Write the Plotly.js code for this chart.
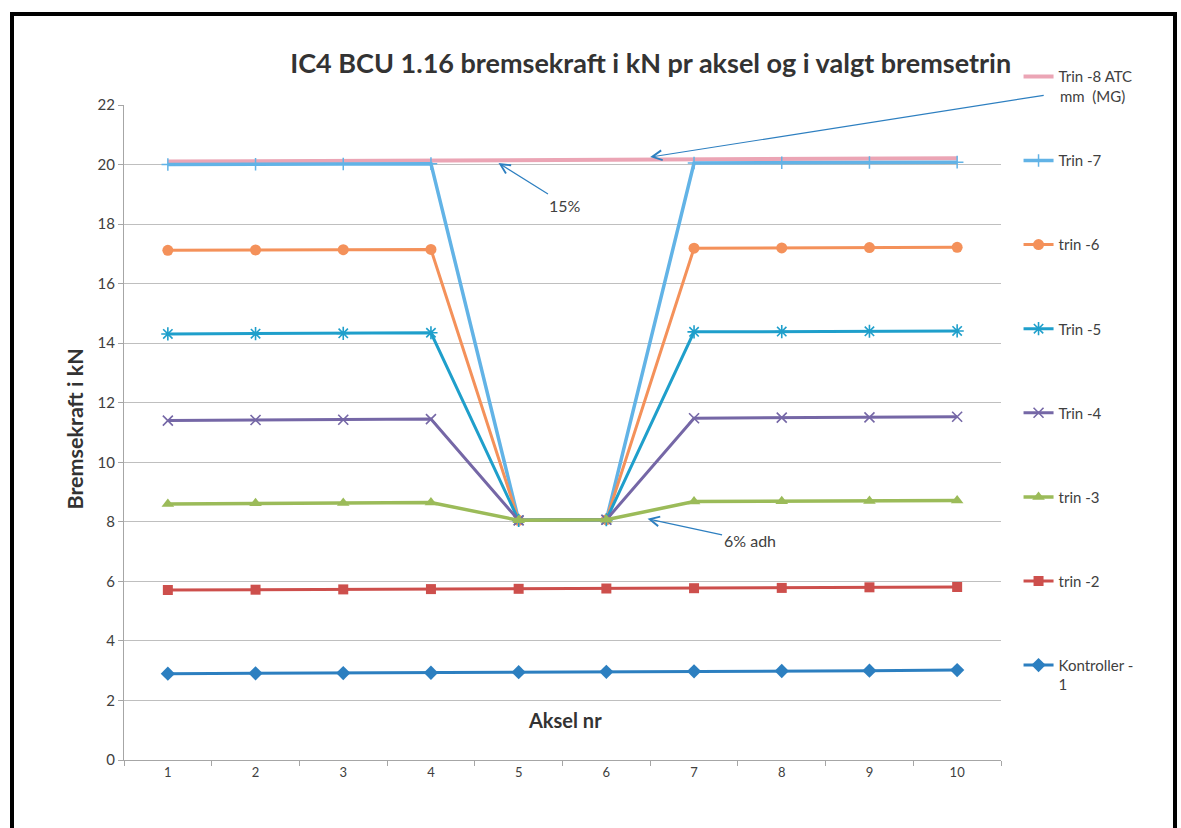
<!DOCTYPE html>
<html><head><meta charset="utf-8">
<script src="https://cdn.plot.ly/plotly-3.0.1.min.js"></script>
<style>
html,body{margin:0;padding:0;background:#fff;}
#wrap{position:relative;width:1181px;height:828px;overflow:hidden;}
#chart{position:absolute;left:0;top:0;width:1181px;height:828px;}
#frame{position:absolute;left:10px;top:12px;width:1159px;height:900px;border:4px solid #000;pointer-events:none;}
</style></head>
<body><div id="wrap"><div id="chart"></div><div id="frame"></div></div>
<script>
const axles = ['1','2','3','4','5','6','7','8','9','10'];
const trin8 = [20.10, 20.11, 20.12, 20.13, 20.15, 20.16, 20.17, 20.18, 20.20, 20.21];
const trin7 = [20.00, 20.01, 20.02, 20.03, 8.05, 8.07, 20.05, 20.06, 20.07, 20.08];
const trin6 = [17.12, 17.13, 17.14, 17.15, 8.05, 8.07, 17.19, 17.20, 17.21, 17.22];
const trin5 = [14.31, 14.32, 14.33, 14.35, 8.05, 8.07, 14.38, 14.39, 14.40, 14.41];
const trin4 = [11.40, 11.42, 11.43, 11.45, 8.05, 8.07, 11.48, 11.50, 11.51, 11.53];
const trin3 = [8.60, 8.62, 8.63, 8.65, 8.05, 8.07, 8.68, 8.69, 8.70, 8.72];
const trin2 = [5.71, 5.72, 5.73, 5.74, 5.75, 5.76, 5.77, 5.78, 5.80, 5.81];
const kontroller1 = [2.90, 2.91, 2.92, 2.93, 2.95, 2.96, 2.98, 2.99, 3.00, 3.02];
const yTicks = [0, 2, 4, 6, 8, 10, 12, 14, 16, 18, 20, 22];

const FONT = 'Lato, "Open Sans", sans-serif';
const TXT = '#404040';

function tr(name, y, color, symbol, msize, lw, mline) {
  const t = {
    type: 'scatter', mode: symbol ? 'lines+markers' : 'lines',
    x: axles, y: y, name: name, legendgroup: name,
    line: {color: color, width: lw}
  };
  if (symbol) {
    t.marker = {symbol: symbol, size: msize, color: color,
                line: {color: color, width: mline || 0}};
  }
  return t;
}

const traces = [
  tr('Trin -8 ATC', trin8, '#eba5b5', null, 0, 4),
  tr('Trin -7', trin7, '#62b3e6', 'cross-thin-open', 9, 3.5, 1.5),
  tr('trin -6', trin6, '#f4915a', 'circle', 11, 3),
  tr('Trin -5', trin5, '#1f9fcb', 'asterisk-open', 11, 3, 1.6),
  tr('Trin -4', trin4, '#7567a6', 'x-thin-open', 10, 3, 1.6),
  tr('trin -3', trin3, '#9bbb59', 'triangle-up', 11, 3.5),
  tr('trin -2', trin2, '#cd4f4c', 'square', 10, 3),
  tr('Kontroller -<br>1', kontroller1, '#2c7fc0', 'diamond', 11, 3)
];

const arrowCol = '#2d7fc0';
const layout = {
  width: 1181, height: 828,
  margin: {l: 124, r: 180, t: 105, b: 68},
  paper_bgcolor: '#ffffff', plot_bgcolor: '#ffffff',
  font: {family: FONT, color: TXT, size: 13},
  title: {text: 'IC4 BCU 1.16 bremsekraft i kN pr aksel og i valgt bremsetrin',
          font: {family: FONT, size: 27, color: '#333333', weight: 'bold'},
          x: 0.551, xanchor: 'center', y: 0.923, yanchor: 'middle'},
  showlegend: true,
  legend: {x: 1.02, xanchor: 'left', y: 1.0685, yanchor: 'top',
           traceorder: 'grouped', tracegroupgap: 61.6, valign: 'top', maxheight: 820,
           font: {family: FONT, size: 15, color: TXT},
           bgcolor: 'rgba(0,0,0,0)', itemwidth: 30},
  xaxis: {type: 'category', tickson: 'boundaries', ticks: 'outside', ticklen: 5,
          tickcolor: '#a6a6a6', showline: true, linecolor: '#a6a6a6', linewidth: 1,
          showgrid: false, zeroline: false, tickfont: {size: 13, color: TXT},
          range: [-0.5, 9.5]},
  yaxis: {range: [0, 22], tickvals: yTicks, ticks: 'outside', ticklen: 5,
          tickcolor: '#a6a6a6', showline: true, linecolor: '#a6a6a6', linewidth: 1,
          showgrid: true, gridcolor: '#bfbfbf', gridwidth: 1, zeroline: false,
          tickfont: {size: 15, color: TXT}},
  annotations: [
    {xref: 'paper', yref: 'paper', x: -0.0559, y: 0.506, text: '<b>Bremsekraft i kN</b>', showarrow: false,
     textangle: -90, font: {family: FONT, size: 21.5, color: '#333333'}, xanchor: 'center', yanchor: 'middle'},
    {xref: 'paper', yref: 'paper', x: 0.503, y: 0.061, text: '<b>Aksel nr</b>', showarrow: false,
     font: {family: FONT, size: 20, color: '#333333'}, xanchor: 'center', yanchor: 'middle'},
    {xref: 'paper', yref: 'paper', x: 1.0, y: 1.0, xshift: 57, yshift: 9, text: 'mm  (MG)', showarrow: false,
     font: {family: FONT, size: 15, color: TXT}, xanchor: 'left', yanchor: 'middle'},
    {x: 3.77, y: 20.05, text: '15%', showarrow: true, ax: 67, ay: 42,
     arrowcolor: arrowCol, arrowwidth: 1.2, arrowhead: 5, arrowsize: 1.6,
     font: {family: FONT, size: 16, color: TXT}},
    {x: 5.47, y: 8.1, text: '6% adh', showarrow: true, ax: 102, ay: 22,
     arrowcolor: arrowCol, arrowwidth: 1.2, arrowhead: 5, arrowsize: 1.6,
     font: {family: FONT, size: 16, color: TXT}},
    {x: 5.5, y: 20.25, text: '', showarrow: true, ax: 395, ay: -62,
     arrowcolor: arrowCol, arrowwidth: 1.2, arrowhead: 5, arrowsize: 1.6, standoff: 0}
  ]
};

Plotly.newPlot('chart', traces, layout, {displayModeBar: false, staticPlot: true});
</script>
</body></html>
